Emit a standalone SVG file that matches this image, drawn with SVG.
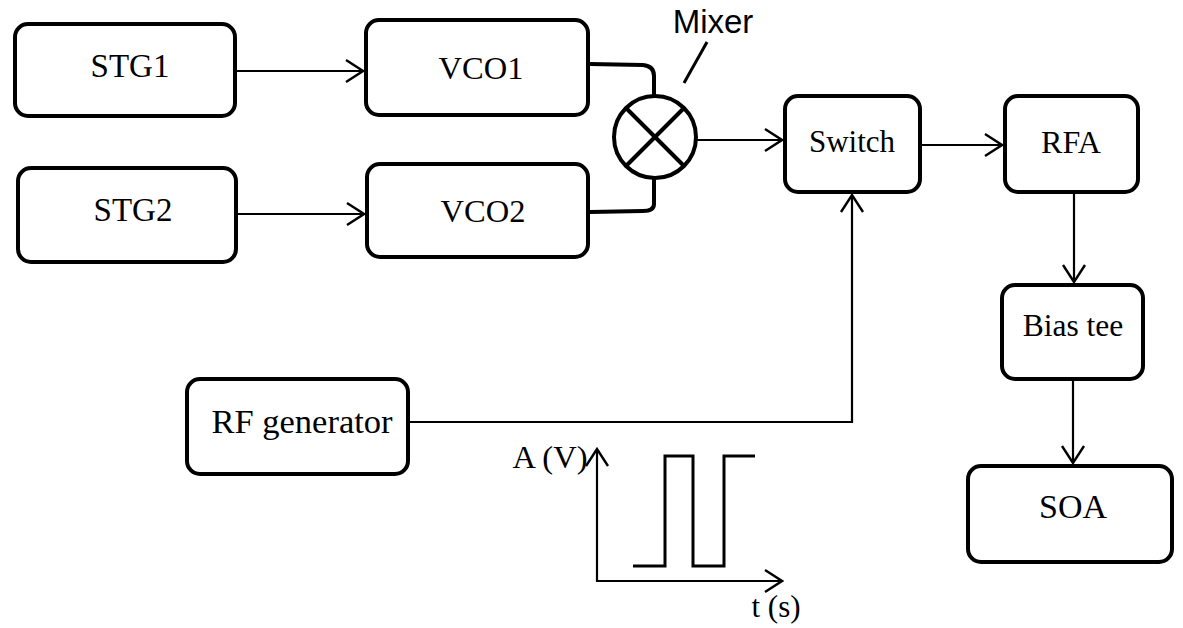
<svg xmlns="http://www.w3.org/2000/svg" width="1183" height="628" viewBox="0 0 1183 628">
<defs>
<style>
.box{fill:#fff;stroke:#000;stroke-width:4}
.lbl{font-family:"Liberation Serif","Times New Roman",serif;fill:#000;text-anchor:middle}
.con{fill:none;stroke:#000;stroke-width:2.2}
.thick{fill:none;stroke:#000;stroke-width:4}
</style>
<marker id="arr" markerUnits="userSpaceOnUse" viewBox="-20 -14 22 28" refX="0" refY="0" markerWidth="22" markerHeight="28" orient="auto">
<path d="M-17,-11 L0,0 L-17,11" fill="none" stroke="#000" stroke-width="2.4"/>
</marker>
</defs>
<rect width="1183" height="628" fill="#fff"/>
<g id="connectors">
<line class="con" x1="237" y1="71" x2="363" y2="71" marker-end="url(#arr)"/>
<line class="con" x1="238" y1="214" x2="364" y2="214" marker-end="url(#arr)"/>
<line class="con" x1="697" y1="140" x2="782" y2="140" marker-end="url(#arr)"/>
<line class="con" x1="922" y1="145" x2="1002" y2="145" marker-end="url(#arr)"/>
<line class="con" x1="1074" y1="194" x2="1074" y2="282" marker-end="url(#arr)"/>
<line class="con" x1="1073" y1="381" x2="1073" y2="463" marker-end="url(#arr)"/>
<polyline class="con" points="410,422 852,422 852,195" marker-end="url(#arr)"/>
<path class="thick" d="M590,64 L643,65 Q654,66 654,76 L654,96"/>
<path class="thick" d="M654,178 L654,204 Q654,211 643,211 L590,212"/>
</g>
<g id="STG1"><rect class="box" x="15" y="24" width="220" height="92" rx="13"/><text class="lbl" x="130" y="77" font-size="33">STG1</text></g>
<g id="STG2"><rect class="box" x="18" y="168" width="218" height="94" rx="13"/><text class="lbl" x="133" y="221" font-size="33">STG2</text></g>
<g id="VCO1"><rect class="box" x="366" y="20" width="222" height="95" rx="13"/><text class="lbl" x="481" y="79" font-size="32.5">VCO1</text></g>
<g id="VCO2"><rect class="box" x="367" y="164" width="221" height="93" rx="13"/><text class="lbl" x="483" y="222" font-size="32.5">VCO2</text></g>
<g id="Mixer">
<circle cx="655" cy="137" r="41" fill="#fff" stroke="#000" stroke-width="4"/>
<line x1="626" y1="108" x2="684" y2="166" stroke="#000" stroke-width="4"/>
<line x1="684" y1="108" x2="626" y2="166" stroke="#000" stroke-width="4"/>
<line x1="707" y1="42" x2="684" y2="83" stroke="#000" stroke-width="3"/>
<text x="713" y="33" font-family="'Liberation Sans',Arial,sans-serif" font-size="33" text-anchor="middle" fill="#000">Mixer</text>
</g>
<g id="Switch"><rect class="box" x="785" y="96" width="135" height="96" rx="13"/><text class="lbl" x="852" y="152" font-size="31">Switch</text></g>
<g id="RFA"><rect class="box" x="1005" y="96" width="133" height="96" rx="13"/><text class="lbl" x="1071" y="153" font-size="32">RFA</text></g>
<g id="BiasTee"><rect class="box" x="1002" y="285" width="141" height="94" rx="13"/><text class="lbl" x="1073" y="336" font-size="31.5">Bias tee</text></g>
<g id="SOA"><rect class="box" x="968" y="466" width="204" height="96" rx="13"/><text class="lbl" x="1073" y="518" font-size="34">SOA</text></g>
<g id="RFgenerator"><rect class="box" x="187" y="379" width="221" height="95" rx="13"/><text class="lbl" x="302" y="433" font-size="34.5">RF generator</text></g>
<g id="waveform">
<line class="con" x1="597" y1="582" x2="597" y2="449" marker-end="url(#arr)"/>
<line class="con" x1="596" y1="581" x2="782" y2="581" marker-end="url(#arr)"/>
<polyline points="633,566 665,566 665,456 693,456 693,566 724,566 724,456 755,456" fill="none" stroke="#000" stroke-width="3"/>
<text class="lbl" x="550" y="468" font-size="32.5">A (V)</text>
<text class="lbl" x="776" y="617" font-size="31">t (s)</text>
</g>
</svg>
